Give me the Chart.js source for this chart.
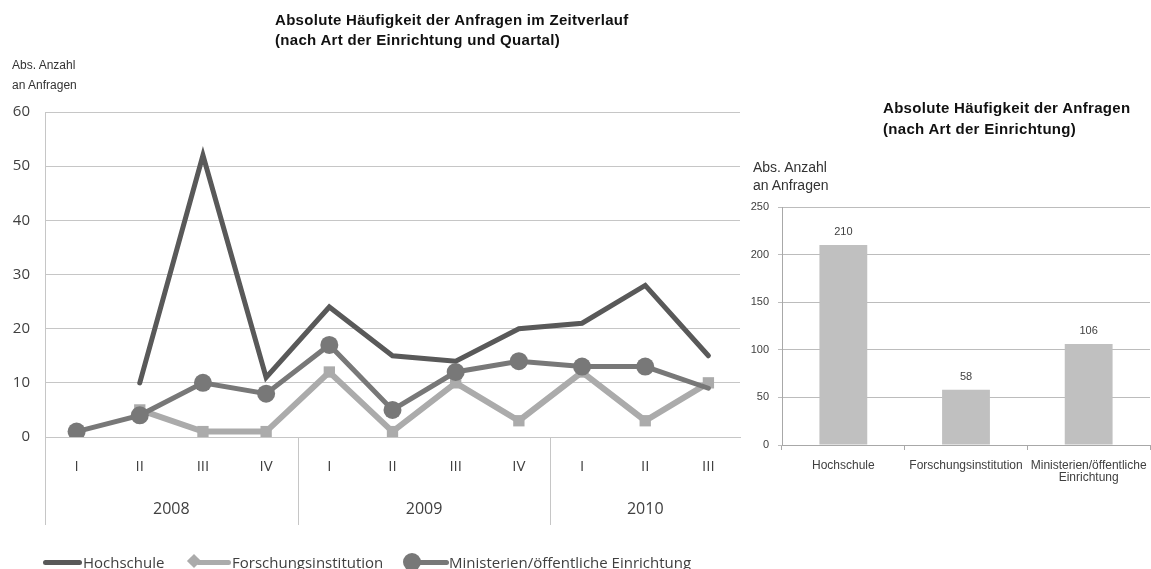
<!DOCTYPE html>
<html><head><meta charset="utf-8">
<script src="https://cdn.jsdelivr.net/npm/chart.js@4.4.1/dist/chart.umd.min.js"></script>
<style>
body{margin:0;width:1151px;height:569px;background:#fff;position:relative;overflow:hidden;font-family:'Liberation Sans',Arial,sans-serif;}
.abs{position:absolute;white-space:nowrap;}
.title{font-weight:bold;font-size:15px;letter-spacing:0.3px;color:#111;line-height:20px;}
.ytitle{color:#333;line-height:20px;}
.leg{position:absolute;font-family:'Open Sans',sans-serif;font-size:15px;color:#404040;line-height:20px;top:552px;white-space:nowrap;}
.lline{position:absolute;height:5px;top:560px;border-radius:3px;}
#leftBox{position:absolute;left:0;top:0;width:749px;height:569px;}
#rightBox{position:absolute;left:730px;top:0;width:431px;height:569px;}
</style></head>
<body>
<div id="leftBox"><canvas id="lineChart"></canvas></div>
<div id="rightBox"><canvas id="barChart"></canvas></div>

<div class="abs title" style="left:275px;top:10px;">Absolute Häufigkeit der Anfragen im Zeitverlauf<br>(nach Art der Einrichtung und Quartal)</div>
<div class="abs ytitle" style="left:12px;top:55px;font-size:12px;">Abs. Anzahl<br>an Anfragen</div>

<div class="abs title" style="left:883px;top:97px;line-height:21px;">Absolute Häufigkeit der Anfragen<br>(nach Art der Einrichtung)</div>
<div class="abs ytitle" style="left:753px;top:158px;font-size:14px;line-height:18px;">Abs. Anzahl<br>an Anfragen</div>

<div id="legend"></div>

<script>
// ---- data ----
const quarters = ['I','II','III','IV','I','II','III','IV','I','II','III'];
const years = ['2008','2009','2010'];
const quartersPerYear = [4,4,3];
const seriesNames = ['Hochschule','Forschungsinstitution','Ministerien/öffentliche Einrichtung'];
const hochschule  = [null,10,52,11,24,15,14,20,21,28,15];
const forschung   = [null,5,1,1,12,1,10,3,12,3,10];
const ministerien = [1,4,10,8,17,5,12,14,13,13,9];
const lineYTicks = {min:0, max:60, step:10};

const barCategories = ['Hochschule','Forschungsinstitution','Ministerien/öffentliche Einrichtung'];
const barTotals = [210,58,106];
const barYTicks = {min:0, max:250, step:50};

// ---- styles ----
const colHoch = '#595959', colFor = '#ababab', colMin = '#787878';
const tickCol = '#404040';

// legend (HTML)
(function(){
  const L = document.getElementById('legend');
  L.innerHTML =
    '<div class="lline" style="left:43px;width:39px;background:'+colHoch+'"></div>'+
    '<div class="leg" style="left:83px">'+seriesNames[0]+'</div>'+
    '<div class="lline" style="left:196px;width:35px;background:'+colFor+'"></div>'+
    '<div style="position:absolute;left:189px;top:556px;width:10px;height:10px;background:'+colFor+';transform:rotate(45deg)"></div>'+
    '<div class="leg" style="left:232px">'+seriesNames[1]+'</div>'+
    '<div class="lline" style="left:412px;width:37px;background:'+colMin+'"></div>'+
    '<div style="position:absolute;left:403px;top:553px;width:18px;height:18px;border-radius:50%;background:'+colMin+'"></div>'+
    '<div class="leg" style="left:449px">'+seriesNames[2]+'</div>';
})();

const yearGroups = {
  id:'yearGroups',
  afterDraw(chart){
    const x = chart.scales.x, ca = chart.chartArea, ctx = chart.ctx;
    const step = x.getPixelForValue(1) - x.getPixelForValue(0);
    const bounds = [0];
    let acc = 0;
    quartersPerYear.forEach(n => { acc += n; bounds.push(acc); });
    ctx.save();
    ctx.strokeStyle = '#c6c6c6'; ctx.lineWidth = 1;
    for (let b = 0; b < bounds.length - 1; b++) {
      const px = Math.round(x.getPixelForValue(bounds[b]) - step/2) + 0.5;
      ctx.beginPath(); ctx.moveTo(px, ca.bottom); ctx.lineTo(px, ca.bottom + 88); ctx.stroke();
    }
    ctx.fillStyle = tickCol;
    ctx.font = '16px "Open Sans"';
    ctx.textAlign = 'center'; ctx.textBaseline = 'middle';
    years.forEach((yr, i) => {
      const c = (x.getPixelForValue(bounds[i]) + x.getPixelForValue(bounds[i+1]-1)) / 2;
      ctx.fillText(yr, c, ca.bottom + 72);
    });
    ctx.restore();
  }
};

new Chart(document.getElementById('lineChart'), {
  type: 'line',
  data: {
    labels: quarters,
    datasets: [
      {label: seriesNames[2], data: ministerien, borderColor: colMin, backgroundColor: colMin,
       borderWidth: 5, pointStyle: 'circle', pointBackgroundColor: colMin, pointBorderWidth: 0,
       pointRadius: ctx => ctx.dataIndex === ministerien.length - 1 ? 0 : 9, tension: 0, borderCapStyle: 'round', order: 0},
      {label: seriesNames[1], data: forschung, borderColor: colFor, backgroundColor: colFor,
       borderWidth: 6, pointStyle: 'rect', pointBackgroundColor: colFor, pointBorderWidth: 0,
       pointRadius: 8, tension: 0, order: 1},
      {label: seriesNames[0], data: hochschule, borderColor: colHoch, backgroundColor: colHoch,
       borderWidth: 5, pointRadius: 0, tension: 0, borderCapStyle: 'round', order: 2}
    ]
  },
  options: {
    responsive: true, maintainAspectRatio: false, animation: false,
    layout: {padding: {left: 0, right: 1, top: 112, bottom: 44}},
    plugins: {legend: {display: false}, tooltip: {enabled: false}, title: {display: false}},
    scales: {
      x: {
        offset: true,
        grid: {display: false},
        border: {display: true, color: '#c6c6c6'},
        ticks: {color: tickCol, font: {family: 'Open Sans', size: 15}, padding: 13, maxRotation: 0, autoSkip: false},
        afterFit: s => { s.height = 88; }
      },
      y: {
        min: lineYTicks.min, max: lineYTicks.max,
        grid: {color: '#c6c6c6', drawTicks: false},
        border: {display: true, color: '#c6c6c6'},
        ticks: {stepSize: lineYTicks.step, color: tickCol, font: {family: 'Open Sans', size: 15}, padding: 15},
        afterFit: s => { s.width = 45; }
      }
    }
  },
  plugins: [yearGroups]
});

const barValueLabels = {
  id: 'barValueLabels',
  afterDatasetsDraw(chart){
    const ctx = chart.ctx, meta = chart.getDatasetMeta(0);
    ctx.save();
    ctx.fillStyle = tickCol;
    ctx.font = '11px "Liberation Sans", Arial';
    ctx.textAlign = 'center'; ctx.textBaseline = 'middle';
    meta.data.forEach((bar, i) => {
      ctx.fillText(String(chart.data.datasets[0].data[i]), bar.x, bar.y - 13);
    });
    ctx.restore();
  }
};

new Chart(document.getElementById('barChart'), {
  type: 'bar',
  data: {
    labels: barCategories,
    datasets: [{data: barTotals, backgroundColor: '#c0c0c0', barPercentage: 0.39, categoryPercentage: 1}]
  },
  options: {
    responsive: true, maintainAspectRatio: false, animation: false,
    layout: {padding: {left: 0, right: 11, top: 207, bottom: 74}},
    plugins: {legend: {display: false}, tooltip: {enabled: false}},
    scales: {
      x: {
        grid: {display: true, drawOnChartArea: false, color: '#a8a8a8', tickLength: 5, offset: true},
        border: {display: true, color: '#a8a8a8'},
        ticks: {
          color: tickCol, font: {family: 'Liberation Sans', size: 12, lineHeight: 1.05}, padding: 9,
          maxRotation: 0, autoSkip: false,
          callback: function(v, i){ const s = barCategories[i]; return s.length > 24 ? s.split(' ') : s; }
        },
        afterFit: s => { s.height = 50; }
      },
      y: {
        min: barYTicks.min, max: barYTicks.max,
        grid: {color: '#bcbcbc', tickLength: 4},
        border: {display: true, color: '#a8a8a8'},
        ticks: {stepSize: barYTicks.step, color: tickCol, font: {family: 'Liberation Sans', size: 11}, padding: 9},
        afterFit: s => { s.width = 52; }
      }
    }
  },
  plugins: [barValueLabels]
});
</script>
</body></html>
